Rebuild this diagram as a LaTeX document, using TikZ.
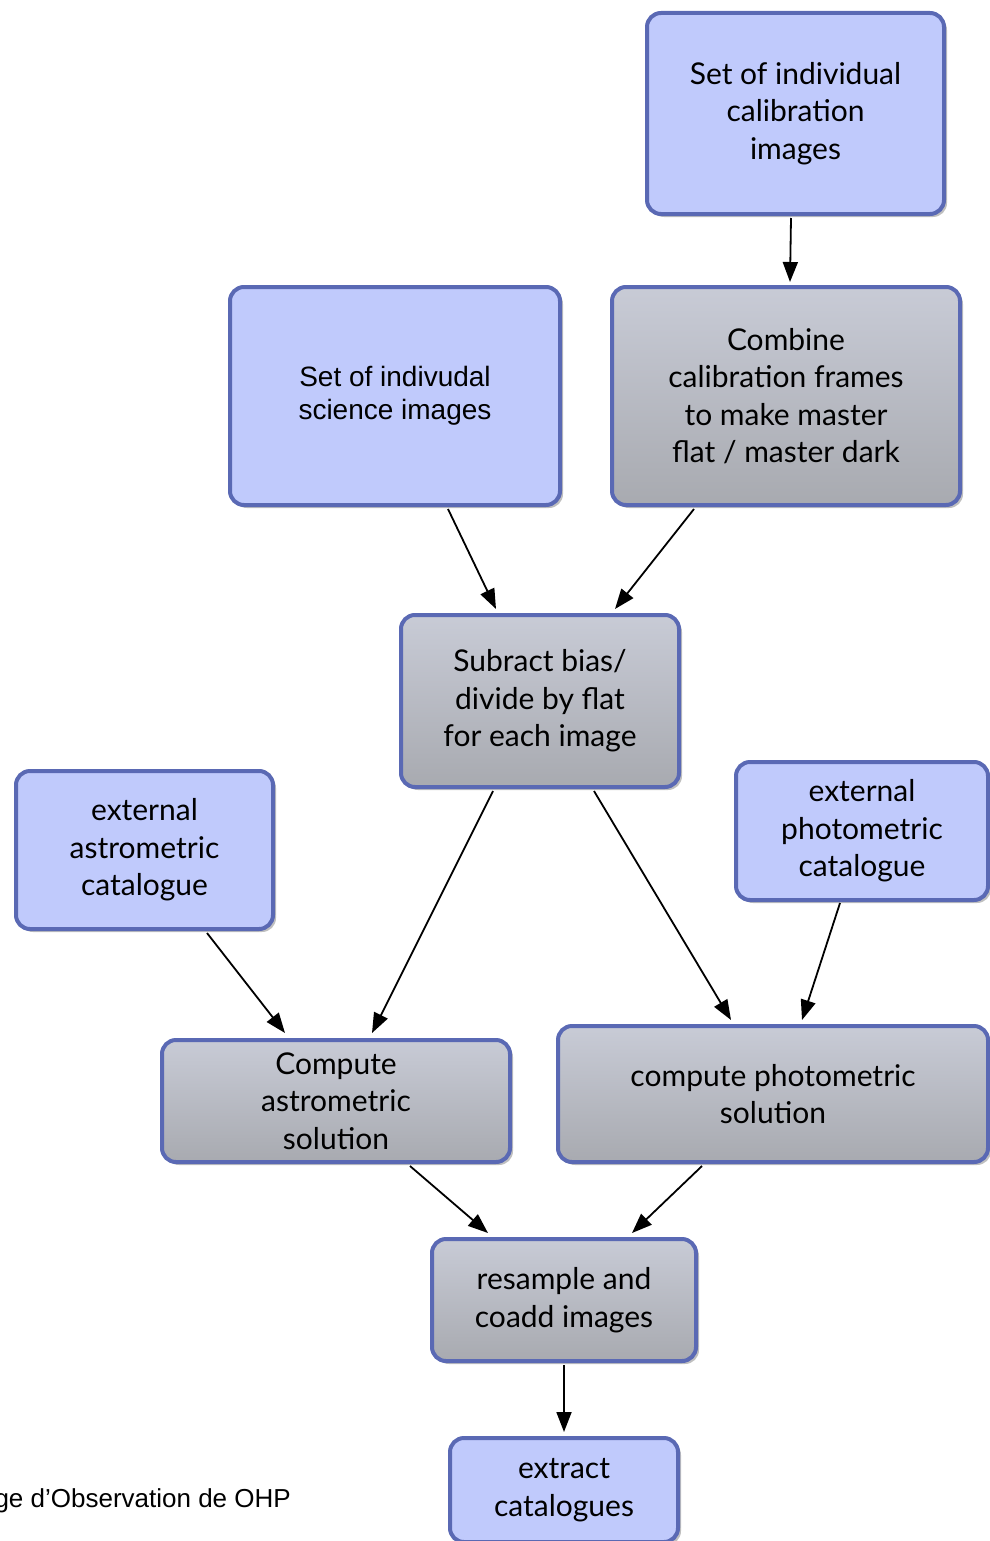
\documentclass[tikz,border=0pt]{standalone}
\usepackage{fontspec}
\setmainfont{Lato}
\newfontfamily\arialf{Liberation Sans}
\usetikzlibrary{arrows.meta,shadows}
\definecolor{bluefill}{RGB}{192,202,252}
\definecolor{bordercol}{RGB}{90,105,180}
\definecolor{graytop}{RGB}{200,203,214}
\definecolor{graybot}{RGB}{168,170,176}
\tikzset{
  basebox/.style={draw=bordercol, line width=4pt, rounded corners=14pt, inner sep=0pt,
    align=center, font={\fontsize{30}{37.5}\selectfont},
    drop shadow={shadow xshift=3pt, shadow yshift=-3pt, opacity=0.25, fill=black}},
  bluebox/.style={basebox, fill=bluefill},
  graybox/.style={basebox, top color=graytop, bottom color=graybot},
  conn/.style={line width=1.8pt, -{Triangle[length=20pt,width=15pt]}},
}
\begin{document}
\begin{tikzpicture}[x=1pt,y=-1pt]
\useasboundingbox (0,0) rectangle (989,1541);
\node[bluebox, minimum width=297pt, minimum height=201pt] (calib) at (795.5,113.5) {Set of individual\\calibration\\images};
\node[bluebox, minimum width=330pt, minimum height=218pt, font={\arialf\fontsize{28}{33}\selectfont}] (sci) at (395,396) {Set of indivudal\\science images};
\node[graybox, minimum width=348pt, minimum height=218pt] (comb) at (786,396) {Combine\\calibration frames\\to make master\\flat / master dark};
\node[graybox, minimum width=278pt, minimum height=172pt] (sub) at (540,701) {Subract bias/\\divide by flat\\for each image};
\node[bluebox, minimum width=257pt, minimum height=158pt] (extA) at (144.5,850) {external\\astrometric\\catalogue};
\node[bluebox, minimum width=252pt, minimum height=138pt] (extP) at (862,831) {external\\photometric\\catalogue};
\node[graybox, minimum width=348pt, minimum height=122pt] (astro) at (336,1101) {Compute\\astrometric\\solution};
\node[graybox, minimum width=430pt, minimum height=136pt] (photo) at (773,1094) {compute photometric\\solution};
\node[graybox, minimum width=264pt, minimum height=122pt] (res) at (564,1300) {resample and\\coadd images};
\node[bluebox, minimum width=228pt, minimum height=104pt] (extr) at (564,1490) {extract\\catalogues};
\node[anchor=base east, inner sep=0pt, font={\arialf\fontsize{26}{30}\selectfont}] (credit) at (291,1507) {ge d’Observation de OHP};

\draw[conn] ([xshift=-4.5pt,yshift=-2pt]calib.south) -- ([xshift=4pt,yshift=3pt]comb.north);
\draw[conn] ([xshift=53pt,yshift=-2pt]sci.south) -- ([xshift=-44pt,yshift=4pt]sub.north);
\draw[conn] ([xshift=-92pt,yshift=-2pt]comb.south) -- ([xshift=75pt,yshift=4pt]sub.north);
\draw[conn] ([xshift=-47pt,yshift=-2pt]sub.south) -- ([xshift=36pt,yshift=5pt]astro.north);
\draw[conn] ([xshift=54pt,yshift=-2pt]sub.south) -- ([xshift=-42pt,yshift=4pt]photo.north);
\draw[conn] ([xshift=62.5pt,yshift=-2pt]extA.south) -- ([xshift=-51pt,yshift=5pt]astro.north);
\draw[conn] ([xshift=-22pt,yshift=-1pt]extP.south) -- ([xshift=29pt,yshift=4pt]photo.north);
\draw[conn] ([xshift=74pt,yshift=-2pt]astro.south) -- ([xshift=-76pt,yshift=4pt]res.north);
\draw[conn] ([xshift=-71pt,yshift=-2pt]photo.south) -- ([xshift=68pt,yshift=4pt]res.north);
\draw[conn] ([yshift=-2pt]res.south) -- ([yshift=4pt]extr.north);
\end{tikzpicture}
\end{document}
